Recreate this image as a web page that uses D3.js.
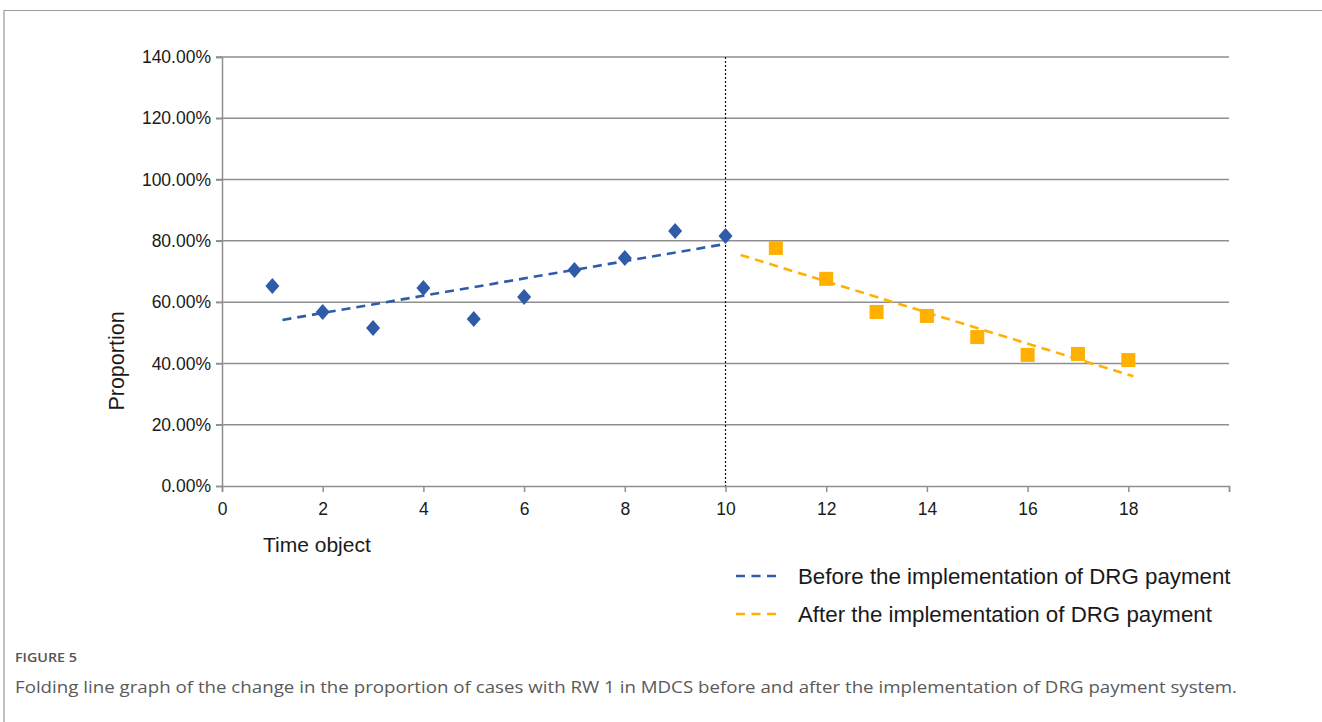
<!DOCTYPE html>
<html><head><meta charset="utf-8">
<script src="https://cdn.jsdelivr.net/npm/d3@7"></script>
<style>
html,body{margin:0;padding:0;background:#fff;}
svg{display:block;}
</style></head>
<body>
<svg id="chart" width="1322" height="722"></svg>
<script>
// ---- data ----
const beforeX = [1,2,3,4,5,6,7,8,9,10];
const beforeY = [65.3,56.8,51.6,64.6,54.5,61.7,70.5,74.4,83.2,81.6];
const afterX = [11,12,13,14,15,16,17,18];
const afterY = [77.7,67.6,56.8,55.5,48.6,42.8,43.1,41.1];
const beforeTrend = [[1.2,54.2],[10,79.0]];
const afterTrend = [[10.3,75.4],[18.1,35.8]];
const xTicks = [0,2,4,6,8,10,12,14,16,18];
const yTicks = [0,20,40,60,80,100,120,140];
const legendLabels = ["Before the implementation of DRG payment","After the implementation of DRG payment"];
const interventionX = 10;

const blue = "#2E5CA8", orange = "#FFB000", grid = "#8f8f8f", txt = "#1a1a1a";
const svg = d3.select("#chart");
const font = "'Liberation Sans', Arial, sans-serif";

// card frame
svg.append("path").attr("d","M4,722 V10.5 H1322").attr("fill","none").attr("stroke","#9a9a9a").attr("stroke-width",1.2);

const x = d3.scaleLinear().domain([0,20]).range([222,1229]);
const y = d3.scaleLinear().domain([0,140]).range([486,57]);

// gridlines
svg.append("g").selectAll("line").data(yTicks.filter(d=>d>0)).join("line")
  .attr("x1",x(0)-6).attr("x2",x(20)).attr("y1",d=>y(d)).attr("y2",d=>y(d))
  .attr("stroke",grid).attr("stroke-width",1.5);

// y axis
const yAxis = d3.axisLeft(y).tickValues(yTicks).tickSize(6).tickFormat(d=>d.toFixed(2)+"%");
const gy = svg.append("g").attr("transform",`translate(${x(0)},0)`).call(yAxis);
gy.select(".domain").attr("stroke",grid).attr("stroke-width",1.5);
gy.selectAll(".tick line").attr("stroke",grid).attr("stroke-width",1.5);
gy.selectAll(".tick text").attr("font-family",font).attr("font-size",17.5).attr("fill",txt).attr("x",-11);

// x axis
const xAxis = d3.axisBottom(x).tickValues(xTicks.concat([20])).tickSize(6).tickFormat(d=>d===20?"":d);
const gx = svg.append("g").attr("transform",`translate(0,${y(0)})`).call(xAxis);
gx.select(".domain").attr("stroke",grid).attr("stroke-width",1.5);
gx.selectAll(".tick line").attr("stroke",grid).attr("stroke-width",1.5);
gx.selectAll(".tick text").attr("font-family",font).attr("font-size",17.5).attr("fill",txt).attr("y",16.5);

// intervention line
svg.append("line").attr("x1",x(interventionX)).attr("x2",x(interventionX))
  .attr("y1",y(140)).attr("y2",y(0)).attr("stroke","#111").attr("stroke-width",1.2)
  .attr("stroke-dasharray","2,2");

// trend lines
const line = d3.line().x(d=>x(d[0])).y(d=>y(d[1]));
svg.append("path").attr("d",line(beforeTrend)).attr("fill","none").attr("stroke",blue)
  .attr("stroke-width",2.6).attr("stroke-dasharray","9,6");
svg.append("path").attr("d",line(afterTrend)).attr("fill","none").attr("stroke",orange)
  .attr("stroke-width",2.6).attr("stroke-dasharray","9,6");

// markers
const diamond = "M0,-8L7,0L0,8L-7,0Z";
svg.append("g").selectAll("path").data(beforeX.map((d,i)=>[d,beforeY[i]])).join("path")
  .attr("d",diamond)
  .attr("transform",d=>`translate(${x(d[0])},${y(d[1])})`).attr("fill",blue);
svg.append("g").selectAll("rect").data(afterX.map((d,i)=>[d,afterY[i]])).join("rect")
  .attr("x",d=>x(d[0])-7).attr("y",d=>y(d[1])-7).attr("width",14).attr("height",14).attr("fill",orange);

// axis titles
svg.append("text").attr("transform","translate(124,361) rotate(-90)").attr("text-anchor","middle")
  .attr("font-family",font).attr("font-size",21.5).attr("fill",txt).text("Proportion");
svg.append("text").attr("x",263).attr("y",552).attr("font-family",font).attr("font-size",21)
  .attr("fill",txt).text("Time object");

// legend
const lg = svg.append("g");
[blue,orange].forEach((c,i)=>{
  const yy = 576 + i*38;
  lg.append("line").attr("x1",736).attr("x2",781).attr("y1",yy).attr("y2",yy)
    .attr("stroke",c).attr("stroke-width",2.6).attr("stroke-dasharray","9,6.5");
  lg.append("text").attr("x",798).attr("y",yy+7.5).attr("font-family",font).attr("font-size",22.3)
    .attr("fill",txt).text(legendLabels[i]);
});

// caption
svg.append("text").attr("x",15).attr("y",662).attr("font-family","'Open Sans', 'Noto Sans', sans-serif")
  .attr("font-size",12.5).attr("font-weight",600).attr("fill","#555").attr("textLength",62).attr("lengthAdjust","spacingAndGlyphs")
  .text("FIGURE 5");
svg.append("text").attr("x",15).attr("y",693).attr("font-family","'Open Sans', 'Noto Sans', sans-serif")
  .attr("font-size",17).attr("fill","#5a5a5a").attr("textLength",1222).attr("lengthAdjust","spacingAndGlyphs")
  .text("Folding line graph of the change in the proportion of cases with RW 1 in MDCS before and after the implementation of DRG payment system.");
</script>
</body></html>
